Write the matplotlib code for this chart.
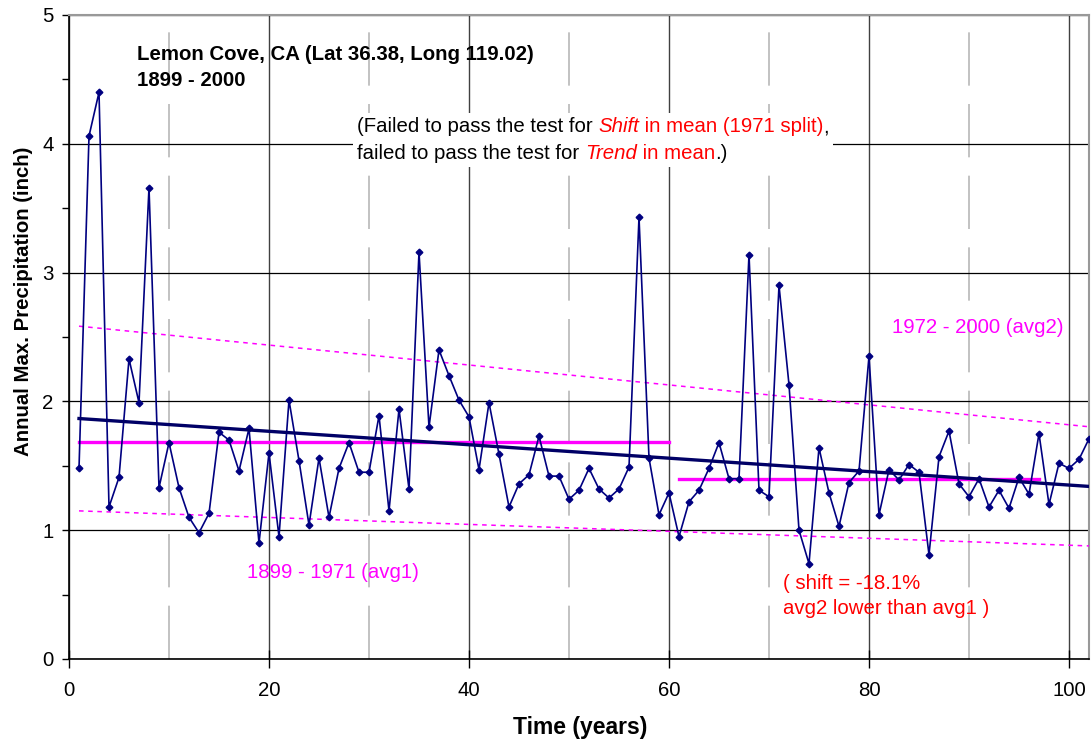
import numpy as np
import matplotlib
matplotlib.use("Agg")
import matplotlib.pyplot as plt
from matplotlib.ticker import FixedLocator
from matplotlib.offsetbox import TextArea, HPacker, VPacker, AnnotationBbox

plt.rcParams['font.family'] = ['Liberation Sans', 'DejaVu Sans']

# annual max precipitation (inch), years 1899-2000 -> time 1..102
years = np.arange(1, 103)
precip = [1.48, 4.06, 4.40, 1.18, 1.41, 2.33, 1.99, 3.66, 1.33, 1.68,
          1.33, 1.10, 0.98, 1.13, 1.76, 1.70, 1.46, 1.79, 0.90, 1.60,
          0.95, 2.01, 1.54, 1.04, 1.56, 1.10, 1.48, 1.68, 1.45, 1.45,
          1.89, 1.15, 1.94, 1.32, 3.16, 1.80, 2.40, 2.20, 2.01, 1.88,
          1.47, 1.99, 1.59, 1.18, 1.36, 1.43, 1.73, 1.42, 1.42, 1.24,
          1.31, 1.48, 1.32, 1.25, 1.32, 1.49, 3.43, 1.56, 1.12, 1.29,
          0.95, 1.22, 1.31, 1.48, 1.68, 1.40, 1.40, 3.14, 1.31, 1.26,
          2.90, 2.13, 1.00, 0.74, 1.64, 1.29, 1.03, 1.37, 1.46, 2.35,
          1.12, 1.47, 1.39, 1.51, 1.45, 0.81, 1.57, 1.77, 1.36, 1.26,
          1.40, 1.18, 1.31, 1.17, 1.41, 1.28, 1.75, 1.20, 1.52, 1.48,
          1.55, 1.71]

# fitted lines
trend_x = [1, 102]
trend_y = [1.867, 1.34]
upper_y = [2.584, 1.803]
lower_y = [1.150, 0.878]
avg1_x = [1, 60]
avg1_y = [1.683, 1.683]
avg2_x = [61, 97]
avg2_y = [1.395, 1.395]

x_major = [0, 20, 40, 60, 80, 100]
x_minor = [10, 30, 50, 70, 90]
y_major = [0, 1, 2, 3, 4, 5]
y_minor = [0.5, 1.5, 2.5, 3.5, 4.5]

FS = 14.7

fig = plt.figure(figsize=(10.91, 7.43), dpi=100)
ax = fig.add_axes([69 / 1091, 1 - 659 / 743, 1020 / 1091, 644 / 743])

navy = '#000080'
magenta = '#ff00ff'

ax.plot(years, precip, color=navy, lw=1.2, marker='D', markersize=3.4, zorder=5)
ax.plot(trend_x, trend_y, color='#000066', lw=2.4, zorder=6)
ax.plot(trend_x, upper_y, color=magenta, lw=1.1, ls=(0, (3, 3)), zorder=4)
ax.plot(trend_x, lower_y, color=magenta, lw=1.1, ls=(0, (3, 3)), zorder=4)
ax.plot(avg1_x, avg1_y, color=magenta, lw=2.4, zorder=4)
ax.plot(avg2_x, avg2_y, color=magenta, lw=2.4, zorder=4)

ax.set_xlim(0, 102)
ax.set_ylim(0, 5)
ax.xaxis.set_major_locator(FixedLocator(x_major))
ax.xaxis.set_minor_locator(FixedLocator(x_minor))
ax.yaxis.set_major_locator(FixedLocator(y_major))
ax.yaxis.set_minor_locator(FixedLocator(y_minor))

ax.grid(axis='x', which='major', color='#404040', lw=1)
ax.grid(axis='x', which='minor', color='#b8b8b8', lw=1.2, ls=(0, (32, 11)))
ax.grid(axis='y', which='major', color='black', lw=0.9)
ax.set_axisbelow(True)

ax.tick_params(axis='x', which='major', direction='inout', length=13, width=1,
               labelsize=FS, pad=9)
ax.tick_params(axis='x', which='minor', length=0)
ax.tick_params(axis='y', which='both', direction='out', length=5, width=1,
               labelsize=FS, pad=6)

for s in ['left', 'bottom']:
    ax.spines[s].set_color('black')
    ax.spines[s].set_linewidth(1.2)
for s in ['top', 'right']:
    ax.spines[s].set_color('#999999')
    ax.spines[s].set_linewidth(1.5)

ax.set_xlabel('Time (years)', fontsize=16.5, fontweight='bold', va='center')
ax.xaxis.set_label_coords(0.501, -0.1056)
ax.set_ylabel('Annual Max. Precipitation (inch)', fontsize=FS, fontweight='bold')
ax.yaxis.set_label_coords(-0.0353, 0.556)

ax.text(6.8, 4.69, 'Lemon Cove, CA (Lat 36.38, Long 119.02)', fontsize=FS,
        fontweight='bold', va='center')
ax.text(6.8, 4.495, '1899 - 2000', fontsize=FS, fontweight='bold', va='center')

ax.text(17.8, 0.675, '1899 - 1971 (avg1)', color=magenta, fontsize=FS, va='center')
ax.text(82.3, 2.57, '1972 - 2000 (avg2)', color=magenta, fontsize=FS, va='center')
ax.text(71.4, 0.585, '( shift = -18.1%', color='red', fontsize=FS, va='center')
ax.text(71.4, 0.392, 'avg2 lower than avg1 )', color='red', fontsize=FS, va='center')


def seg(s, color='black', style='normal'):
    return TextArea(s, textprops=dict(color=color, style=style, fontsize=FS))


line1 = HPacker(children=[seg('(Failed to pass the test for '),
                          seg('Shift', 'red', 'italic'),
                          seg(' in mean (1971 split)', 'red'),
                          seg(',')], pad=0, sep=0)
line2 = HPacker(children=[seg('failed to pass the test for '),
                          seg('Trend', 'red', 'italic'),
                          seg(' in mean', 'red'),
                          seg('.)')], pad=0, sep=0)
box = VPacker(children=[line1, line2], pad=0, sep=5.5, align='left')
ab = AnnotationBbox(box, (28.8, 4.03), xycoords='data', box_alignment=(0, 0.5),
                    frameon=True, pad=0.3,
                    bboxprops=dict(edgecolor='none', facecolor='white'))
ab.set_zorder(3)
ax.add_artist(ab)

fig.savefig('out.png', dpi=100)
